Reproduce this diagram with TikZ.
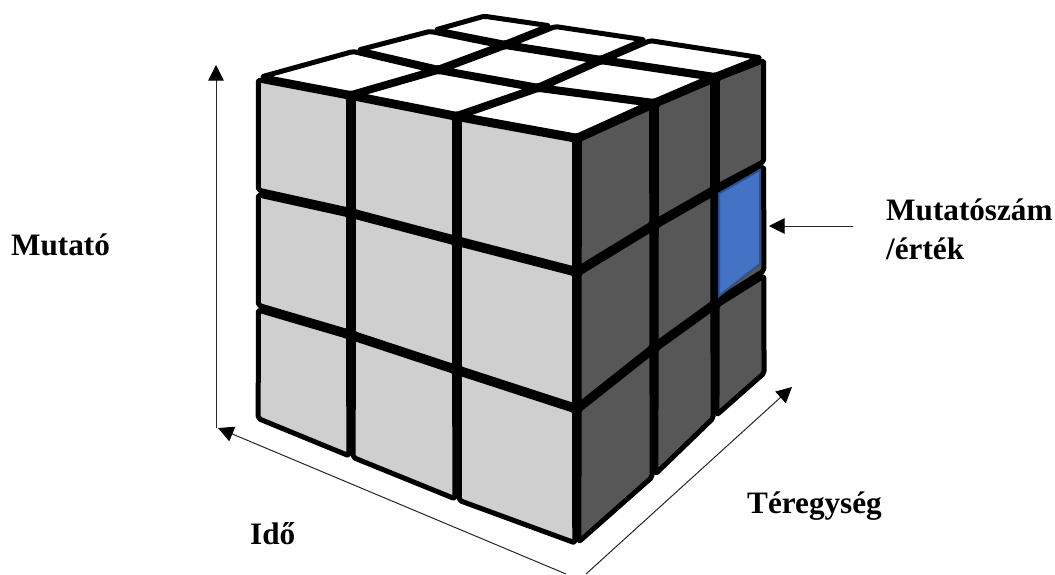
\documentclass[tikz,border=0pt]{standalone}
\usepackage{fontspec}
\setmainfont{Liberation Serif}
\usetikzlibrary{arrows.meta,calc}
\definecolor{cellgrey}{HTML}{CFCFCF}
\definecolor{celldark}{HTML}{575757}
\definecolor{cellblue}{HTML}{4472C4}
\definecolor{cellblueline}{HTML}{2F528F}
\tikzset{
  cell/.style={draw=black,line width=5pt,line join=round,rounded corners=2pt},
  axis/.style={draw=black!85,line width=1pt,-{Triangle[length=15.5pt,width=15.5pt,black]}},
  caption/.style={font=\bfseries\fontsize{31.2}{36}\selectfont,inner sep=0pt,anchor=base west}
}
% one sticker, pulled in from the grid lines by #1
\newcommand{\cellquad}[6]{
  \draw[cell,fill=#6]
    ($(#2)!#1!(#3)+(#2)!#1!(#5)-(#2)$) -- ($(#3)!#1!(#2)+(#3)!#1!(#4)-(#3)$) --
    ($(#4)!#1!(#3)+(#4)!#1!(#5)-(#4)$) -- ($(#5)!#1!(#4)+(#5)!#1!(#2)-(#5)$) -- cycle;
}
\begin{document}
\begin{tikzpicture}[x=1pt,y=-1pt]
  \useasboundingbox (0,0) rectangle (1055,574);
  % grid points of the three faces
  \foreach \n/\x/\y in {00/256/77,01/351/95,02/457/116,03/577/138,
    10/256/192,11/351/213,12/457/241,13/577/272,
    20/256/307,21/351/335,22/457/370,23/577/409,
    30/256/420,31/351/459,32/457/502,33/577/546}
    \coordinate (l\n) at (\x,\y);
  \foreach \n/\x/\y in {00/577/138,01/654/103,02/715/77,03/766/57,
    10/577/272,11/654/225,12/715/190,13/766/163,
    20/577/409,21/654/348,22/715/304,23/766/272,
    30/577/546,31/654/478,32/715/419,33/766/374}
    \coordinate (r\n) at (\x,\y);
  \foreach \n/\x/\y in {00/256/77,01/351/95,02/457/116,03/577/138,
    10/353/50,11/438/70,12/538/88,13/654/103,
    20/430/30,21/505/45,22/601/60,23/715/77,
    30/484/15,31/555/25,32/650/39,33/766/57}
    \coordinate (t\n) at (\x,\y);
  % black behind the stickers
  \fill[black] (260,81) -- (353,54) -- (431,34) -- (484,19) -- (762,60) -- (762,370) -- (577,541) -- (260,417) -- cycle;
  % faces
  \foreach \i/\ii in {0/1,1/2,2/3} \foreach \j/\jj in {0/1,1/2,2/3} {
    \cellquad{3pt}{t\i\j}{t\i\jj}{t\ii\jj}{t\ii\j}{white}
    \cellquad{2.4pt}{l\i\j}{l\i\jj}{l\ii\jj}{l\ii\j}{cellgrey}
    \cellquad{2.6pt}{r\i\j}{r\i\jj}{r\ii\jj}{r\ii\j}{celldark}
  }
  % marked cell
  \draw[cellblueline,line width=2pt,fill=cellblue] (719,193.5) -- (760,170) -- (760,264) -- (719,296) -- cycle;
  % axes
  \coordinate (origin) at (216,428);
  \coordinate (mutatoend) at (216,65);
  \coordinate (idoend) at (566,574);
  \coordinate (idotip) at (218,428);
  \coordinate (teregstart) at (586,574);
  \coordinate (teregtip) at (792,387);
  \coordinate (valuestart) at (853,226);
  \coordinate (valuetip) at (769,226);
  \draw[axis] (origin) -- (mutatoend);
  \draw[axis] (idoend) -- (idotip);
  \draw[axis] (teregstart) -- (teregtip);
  \draw[axis] (valuestart) -- (valuetip);
  % labels
  \node[caption] (mutato) at (11,255) {Mutató};
  \node[caption] (mutatoszam) at (886,220) {Mutatószám};
  \node[caption] (ertek) at (886,259) {/érték};
  \node[caption] (teregyseg) at (747,513) {Téregység};
  \node[caption] (ido) at (250,544) {Idő};
\end{tikzpicture}
\end{document}
